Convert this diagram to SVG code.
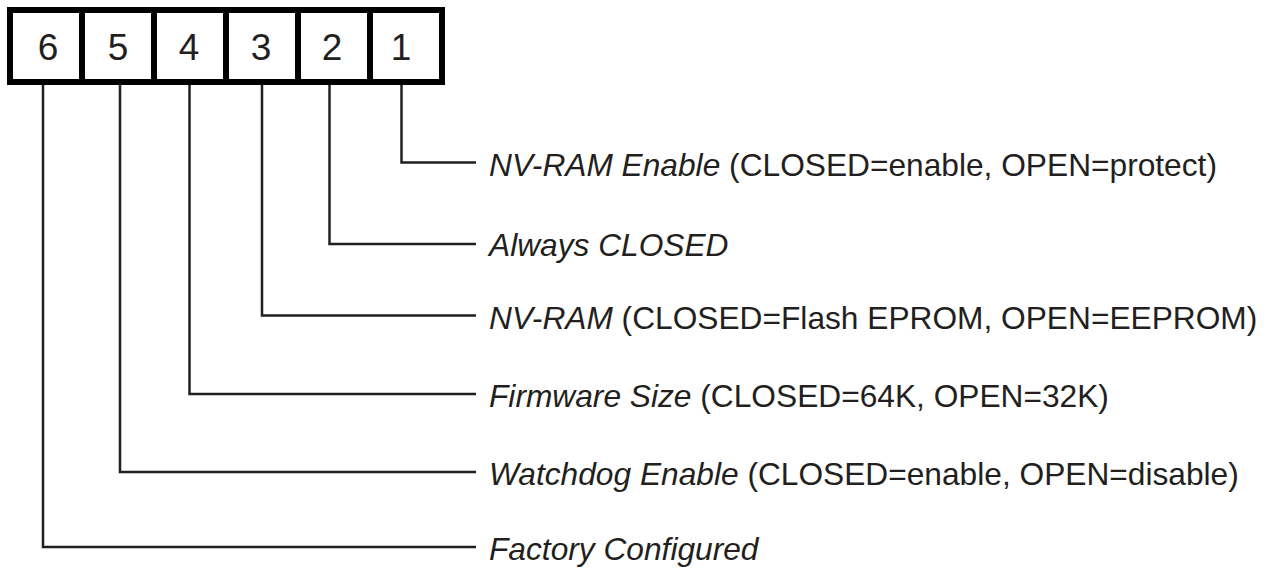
<svg xmlns="http://www.w3.org/2000/svg" width="1269" height="569" viewBox="0 0 1269 569">
<style>
.box{fill:#ffffff;stroke:#000000;stroke-width:6}
.num{font-family:"Liberation Sans",Arial,sans-serif;font-size:37px;fill:#231f20;text-anchor:middle}
.lbl{font-family:"Liberation Sans",Arial,sans-serif;font-size:31.7px;fill:#231f20}
.it{font-style:italic}
.wire{fill:none;stroke:#231f20;stroke-width:2.5}
</style>
<rect width="1269" height="569" fill="#ffffff"/>
<g id="switch">
<rect class="box" x="10" y="10" width="432" height="72"/>
<line class="box" x1="82" y1="10" x2="82" y2="82"/>
<line class="box" x1="154" y1="10" x2="154" y2="82"/>
<line class="box" x1="226" y1="10" x2="226" y2="82"/>
<line class="box" x1="298" y1="10" x2="298" y2="82"/>
<line class="box" x1="370" y1="10" x2="370" y2="82"/>
<text class="num" x="48" y="60">6</text>
<text class="num" x="118" y="60">5</text>
<text class="num" x="189" y="60">4</text>
<text class="num" x="261" y="60">3</text>
<text class="num" x="332" y="60">2</text>
<text class="num" x="401" y="60">1</text>
</g>
<g id="connectors">
<polyline class="wire" points="401.5,85 401.5,162.5 476,162.5"/>
<polyline class="wire" points="329.5,85 329.5,244 476,244"/>
<polyline class="wire" points="262,85 262,315.5 476,315.5"/>
<polyline class="wire" points="189.5,85 189.5,394 476,394"/>
<polyline class="wire" points="120,85 120,472 476,472"/>
<polyline class="wire" points="43,85 43,547 476,547"/>
</g>
<g id="label1"><text class="lbl" x="489" y="176"><tspan class="it">NV-RAM Enable</tspan> (CLOSED=enable, OPEN=protect)</text></g>
<g id="label2"><text class="lbl" x="489" y="256"><tspan class="it">Always CLOSED</tspan></text></g>
<g id="label3"><text class="lbl" x="489" y="329"><tspan class="it">NV-RAM</tspan> (CLOSED=Flash EPROM, OPEN=EEPROM)</text></g>
<g id="label4"><text class="lbl" x="489" y="407"><tspan class="it">Firmware Size</tspan> (CLOSED=64K, OPEN=32K)</text></g>
<g id="label5"><text class="lbl" x="489" y="485"><tspan class="it">Watchdog Enable</tspan> (CLOSED=enable, OPEN=disable)</text></g>
<g id="label6"><text class="lbl" x="489" y="560"><tspan class="it">Factory Configured</tspan></text></g>
</svg>
